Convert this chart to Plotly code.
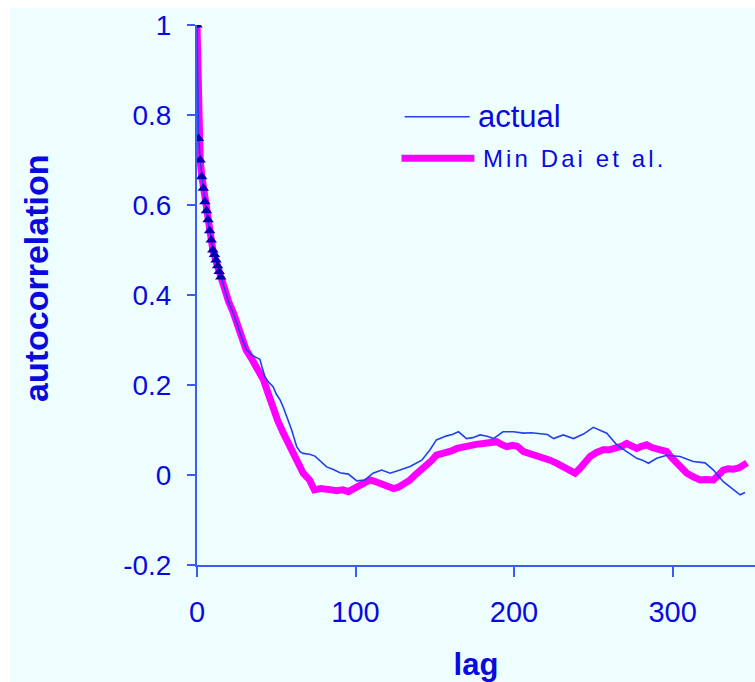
import plotly.graph_objects as go

# Autocorrelation of the measured series
actual_lag = [0, 1, 2, 3, 4, 5, 6, 7, 8, 9, 10, 11, 12, 13, 14, 15,
              17, 20, 23, 25, 28, 31, 34.5, 37, 39.7, 41, 42.9, 45, 48, 50, 52.4,
              54.5, 56.6, 59.7, 62.9, 65, 67, 71, 74.4, 78, 81.8, 86, 90.2, 95.5,
              100.8, 106, 111, 116.5, 121.8, 128, 134.4, 141.8, 147, 151, 157.5,
              161, 165, 170, 174, 178.5, 183, 187, 193, 199.6, 206, 211, 216.4,
              221, 225, 231, 237.5, 243.8, 250, 254, 258.5, 264.8, 271, 277.4,
              281, 284.8, 290, 296.4, 304.7, 309, 313, 320.5, 325.8, 332, 338.4,
              342.6, 345.7]
actual_acf = [1.0, 0.748, 0.70, 0.663, 0.637, 0.607, 0.587, 0.567, 0.543, 0.522,
              0.50, 0.49, 0.478, 0.465, 0.452, 0.44,
              0.418, 0.383, 0.359, 0.337, 0.307, 0.28, 0.267, 0.262, 0.257, 0.24,
              0.218, 0.207, 0.196, 0.18, 0.167, 0.15, 0.13, 0.10, 0.063, 0.052,
              0.048, 0.046, 0.042, 0.03, 0.018, 0.012, 0.005, 0.002, -0.013,
              -0.011, 0.004, 0.011, 0.004, 0.011, 0.019, 0.033, 0.056, 0.078,
              0.087, 0.09, 0.096, 0.081, 0.083, 0.089, 0.086, 0.081, 0.096, 0.096,
              0.093, 0.094, 0.091, 0.09, 0.081, 0.089, 0.081, 0.091, 0.106, 0.10,
              0.093, 0.067, 0.052, 0.037, 0.033, 0.026, 0.037, 0.044, 0.041, 0.035,
              0.03, 0.027, 0.011, -0.015, -0.033, -0.044, -0.039]
# the first lags of the measured series carry triangle markers
marked_count = 16

# Autocorrelation of the Min Dai et al. model
model_lag = [0, 1, 2, 3, 5, 8, 10, 12, 15, 17, 20, 23, 25, 28, 31, 35, 38, 42,
             45, 48, 51, 54.5, 58, 61, 64, 67, 71, 74, 78, 82, 85, 88, 92, 95.5,
             99, 102, 106, 109, 112, 115.5, 120, 124, 127, 130, 134, 137.5, 141,
             145, 148, 151, 154, 157.5, 160, 164, 168, 172, 176, 180.6, 185, 189,
             192, 195.4, 199, 202, 206, 210, 214, 218, 222.7, 227, 231, 235,
             238.5, 241.6, 245, 248, 252, 256.3, 260, 264.8, 268, 271, 274,
             277.4, 280, 283.7, 287, 290, 293, 296.4, 299, 302.7, 306, 309, 313,
             317.4, 321, 325.8, 329, 332, 335, 338.4, 342, 345.7, 347]
model_acf = [1.0, 0.75, 0.70, 0.665, 0.61, 0.545, 0.50, 0.475, 0.44, 0.415, 0.385,
             0.36, 0.337, 0.307, 0.278, 0.255, 0.235, 0.211, 0.18, 0.144, 0.12,
             0.093, 0.07, 0.048, 0.025, 0.004, -0.011, -0.033, -0.03, -0.03,
             -0.033, -0.035, -0.033, -0.037, -0.03, -0.022, -0.015, -0.011,
             -0.014, -0.019, -0.025, -0.03, -0.027, -0.022, -0.012, 0.0, 0.01,
             0.019, 0.032, 0.044, 0.046, 0.048, 0.053, 0.059, 0.063, 0.067, 0.068,
             0.07, 0.072, 0.074, 0.068, 0.063, 0.066, 0.064, 0.052, 0.048, 0.044,
             0.039, 0.033, 0.026, 0.019, 0.011, 0.004, 0.015, 0.028, 0.041, 0.05,
             0.056, 0.056, 0.059, 0.064, 0.07, 0.065, 0.059, 0.063, 0.067, 0.061,
             0.057, 0.055, 0.052, 0.04, 0.026, 0.014, 0.004, -0.004, -0.011,
             -0.01, -0.011, 0.0, 0.011, 0.014, 0.013, 0.016, 0.022, 0.027]

series_names = ["actual", "Min Dai et al."]
y_ticks = [-0.2, 0, 0.2, 0.4, 0.6, 0.8, 1]
y_tick_text = ["-0.2", "0", "0.2", "0.4", "0.6", "0.8", "1"]
x_ticks = [0, 100, 200, 300]

TEXT_BLUE = "#0a0ae0"
AXIS_BLUE = "#3a5cf5"
ACTUAL_BLUE = "#2440e8"
MAGENTA = "#ff00ff"
BG = "#eefefe"
FONT = "Liberation Sans, Arial, sans-serif"

fig = go.Figure()

fig.add_trace(go.Scatter(
    x=model_lag, y=model_acf, mode="lines", name=series_names[1],
    line=dict(color=MAGENTA, width=7), showlegend=False,
))
fig.add_trace(go.Scatter(
    x=actual_lag, y=actual_acf, mode="lines", name=series_names[0],
    line=dict(color=ACTUAL_BLUE, width=1.6), showlegend=False,
))
fig.add_trace(go.Scatter(
    x=actual_lag[:marked_count], y=actual_acf[:marked_count], mode="markers",
    marker=dict(symbol="triangle-up", size=10, color="#0000b0"),
    showlegend=False, hoverinfo="skip",
))

# hand-placed key in data coordinates
legend_rows = [
    dict(y=0.796, x0=131, x1=172, color=ACTUAL_BLUE, width=1.6, size=31,
         spacing=0),
    dict(y=0.704, x0=129, x1=175, color=MAGENTA, width=7, size=24,
         spacing=3.1),
]
for name, row in zip(series_names, legend_rows):
    fig.add_shape(type="line", xref="x", yref="y", x0=row["x0"], x1=row["x1"],
                  y0=row["y"], y1=row["y"],
                  line=dict(color=row["color"], width=row["width"]))
    label = name
    if row["spacing"]:
        label = f'<span style="letter-spacing:{row["spacing"]}px">{name}</span>'
    fig.add_annotation(x=row["x1"] + 4, y=row["y"], xref="x", yref="y",
                       text=label, showarrow=False, xanchor="left",
                       yanchor="middle",
                       font=dict(family=FONT, size=row["size"], color=TEXT_BLUE))

# vertical axis title
fig.add_annotation(x=-0.2885, y=0.5296, xref="paper", yref="paper",
                   text="<b>autocorrelation</b>", textangle=-90, showarrow=False,
                   xanchor="center", yanchor="middle",
                   font=dict(family=FONT, size=34, color=TEXT_BLUE))

# white edge strips along the top and left of the page
fig.add_shape(type="rect", xref="paper", yref="paper", x0=-0.36, x1=1.01,
              y0=1.0315, y1=1.06, fillcolor="white", line_width=0, layer="above")
fig.add_shape(type="rect", xref="paper", yref="paper", x0=-0.36, x1=-0.3351,
              y0=-0.25, y1=1.06, fillcolor="white", line_width=0, layer="above")

fig.update_layout(
    width=755, height=682,
    margin=dict(l=197, r=0, t=25, b=117),
    paper_bgcolor=BG, plot_bgcolor=BG,
    font=dict(family=FONT, color=TEXT_BLUE, size=26),
    showlegend=False,
)
fig.update_xaxes(
    range=[0, 352], tickvals=x_ticks, showgrid=False, zeroline=False,
    showline=True, linecolor=AXIS_BLUE, linewidth=2,
    ticks="outside", ticklen=10, tickwidth=2, tickcolor=AXIS_BLUE,
    ticklabelstandoff=10,
    tickfont=dict(family=FONT, size=29, color=TEXT_BLUE),
    title=dict(text="<b>lag</b>", standoff=32,
               font=dict(family=FONT, size=31, color=TEXT_BLUE)),
)
fig.update_yaxes(
    range=[-0.2, 1.0], tickvals=y_ticks, ticktext=y_tick_text,
    showgrid=False, zeroline=False,
    showline=True, linecolor=AXIS_BLUE, linewidth=2,
    ticks="outside", ticklen=8, tickwidth=2, tickcolor=AXIS_BLUE,
    ticklabelstandoff=10,
    tickfont=dict(family=FONT, size=28, color=TEXT_BLUE),
)

fig.write_html("out.html")
